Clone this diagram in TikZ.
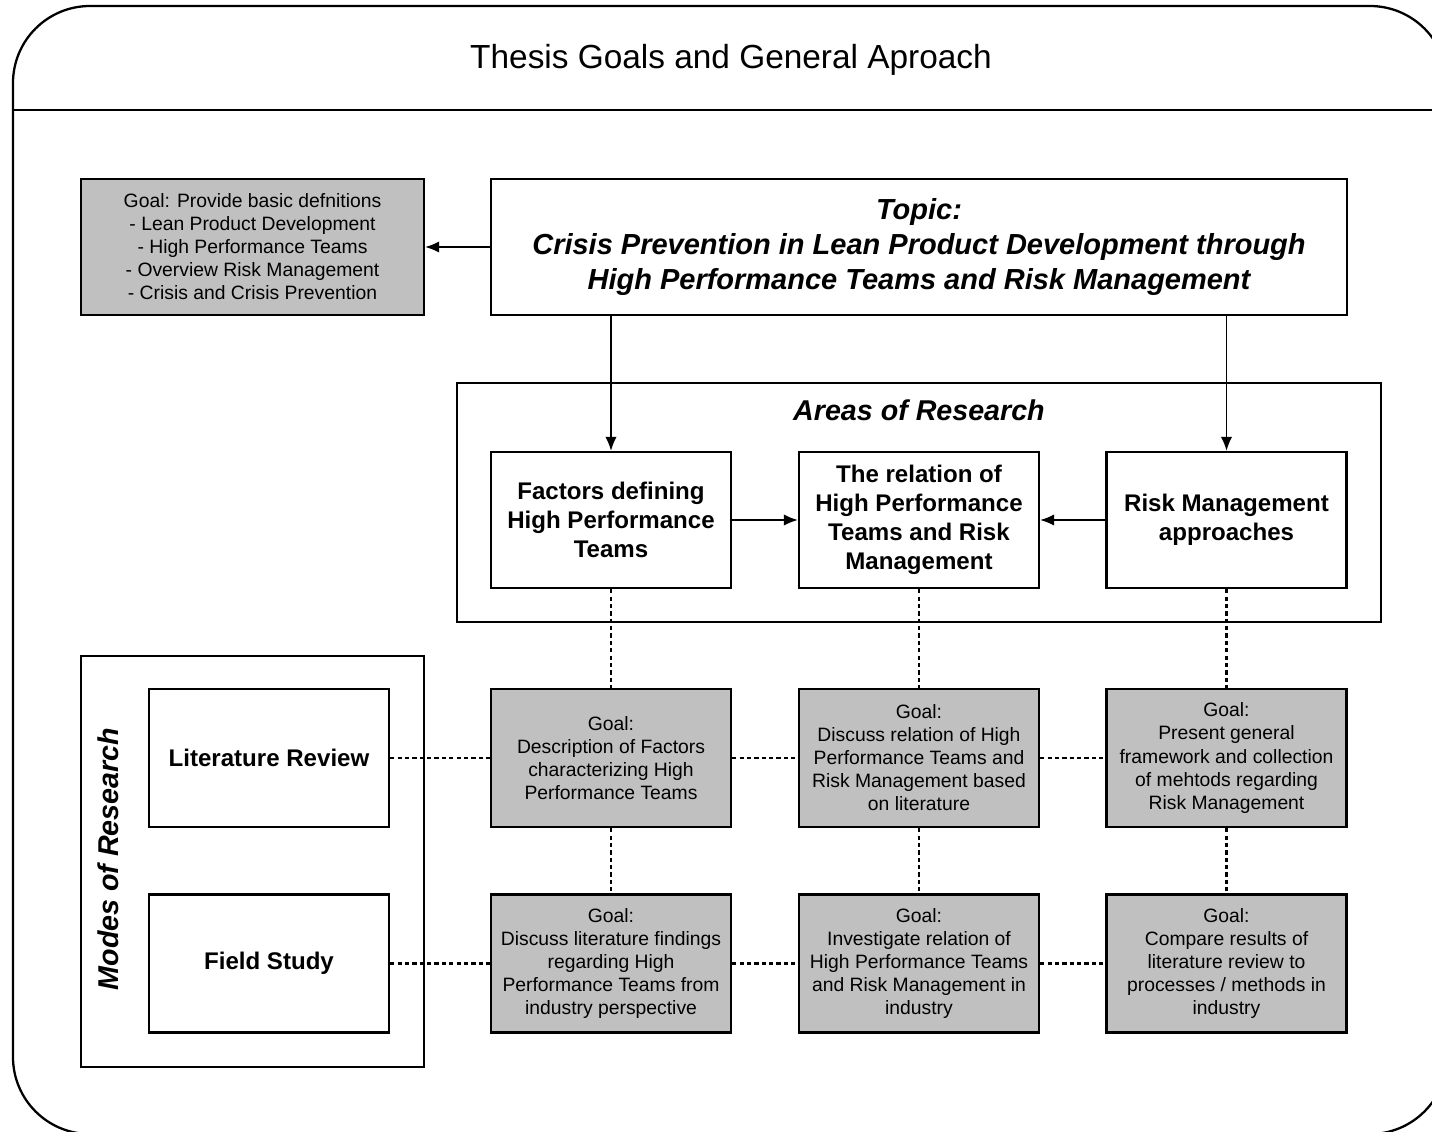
\documentclass[tikz,border=0pt]{standalone}
\usepackage{fontspec}
\setmainfont{Liberation Sans}
\usetikzlibrary{arrows.meta}
\definecolor{goalgray}{RGB}{192,192,192}

\tikzset{
  plainbox/.style={draw, line width=1.3pt, minimum width=4.8cm, minimum height=2.72cm, align=center, inner sep=2pt},
  goalbox/.style={plainbox, fill=goalgray, font=\fontsize{11}{13.1}\selectfont},
  areabox/.style={plainbox, font=\fontsize{13.7}{16.6}\selectfont\bfseries},
  outerbox/.style={draw, line width=1.3pt},
  link/.style={line width=0.9pt, -{Latex[length=8pt,width=6.5pt]}},
  dots/.style={line width=1.4pt, dash pattern=on 2.4pt off 1.8pt},
}

\begin{document}
\begin{tikzpicture}
\useasboundingbox (0,0) rectangle (28.64,-22.62);
\clip (0,0) rectangle (28.64,-22.62);

% frame and title
\draw[outerbox, rounded corners=1.54cm] (0.26,-0.12) rectangle (28.94,-22.68);
\draw[outerbox] (0.26,-2.2) -- (28.94,-2.2);
\node (title) at (14.62,-1.2) {\fontsize{19}{22}\selectfont Thesis Goals and General Aproach};

% top row
\node[goalbox, minimum width=6.86cm] (basics) at (5.05,-4.94) {Goal: Provide basic defnitions\\- Lean Product Development\\- High Performance Teams\\- Overview Risk Management\\- Crisis and Crisis Prevention};
\node[plainbox, minimum width=17.12cm, font=\fontsize{16.5}{19.8}\selectfont\bfseries\itshape] (topic) at (18.38,-4.94) {Topic:\\Crisis Prevention in Lean Product Development through\\High Performance Teams and Risk Management};

% areas of research
\node[outerbox, minimum width=18.48cm, minimum height=4.78cm] (areas) at (18.38,-10.05) {};
\node[font=\fontsize{16.3}{19}\selectfont\bfseries\itshape] (areaslabel) at (18.38,-8.2) {Areas of Research};
\node[areabox] (factors) at (12.22,-10.4) {Factors defining\\High Performance\\Teams};
\node[areabox] (relation) at (18.38,-10.4) {The relation of\\High Performance\\Teams and Risk\\Management};
\node[areabox] (riskmgmt) at (24.53,-10.4) {Risk Management\\approaches};

% modes of research
\node[outerbox, minimum width=6.86cm, minimum height=8.22cm] (modes) at (5.05,-17.23) {};
\node[rotate=90, font=\fontsize{16.3}{19}\selectfont\bfseries\itshape] (modeslabel) at (2.16,-17.18) {Modes of Research};
\node[areabox, minimum height=2.76cm] (litreview) at (5.38,-15.16) {Literature Review};
\node[areabox, minimum height=2.76cm] (fieldstudy) at (5.38,-19.27) {Field Study};

% goals
\node[goalbox, minimum height=2.76cm] (litfactors) at (12.22,-15.16) {Goal:\\Description of Factors\\characterizing High\\Performance Teams};
\node[goalbox, minimum height=2.76cm] (litrelation) at (18.38,-15.16) {Goal:\\Discuss relation of High\\Performance Teams and\\Risk Management based\\on literature};
\node[goalbox, minimum height=2.76cm] (litrisk) at (24.53,-15.16) {Goal:\\Present general\\framework and collection\\of mehtods regarding\\Risk Management};
\node[goalbox, minimum height=2.76cm] (fieldfactors) at (12.22,-19.27) {Goal:\\Discuss literature findings\\regarding High\\Performance Teams from\\industry perspective};
\node[goalbox, minimum height=2.76cm] (fieldrelation) at (18.38,-19.27) {Goal:\\Investigate relation of\\High Performance Teams\\and Risk Management in\\industry};
\node[goalbox, minimum height=2.76cm] (fieldrisk) at (24.53,-19.27) {Goal:\\Compare results of\\literature review to\\processes / methods in\\industry};

% arrows
\draw[link] (topic.west) -- (basics.east);
\draw[link] (topic.south -| factors.north) -- (factors.north);
\draw[link] (topic.south -| riskmgmt.north) -- (riskmgmt.north);
\draw[link] (factors.east) -- (relation.west);
\draw[link] (riskmgmt.west) -- (relation.east);

% dotted links
\foreach \a/\b in {factors/litfactors, relation/litrelation, riskmgmt/litrisk, litfactors/fieldfactors, litrelation/fieldrelation, litrisk/fieldrisk}
  \draw[dots] (\a.south) -- (\b.north);
\foreach \a/\b in {litreview/litfactors, litfactors/litrelation, litrelation/litrisk, fieldstudy/fieldfactors, fieldfactors/fieldrelation, fieldrelation/fieldrisk}
  \draw[dots] (\a.east) -- (\b.west);
\end{tikzpicture}
\end{document}
